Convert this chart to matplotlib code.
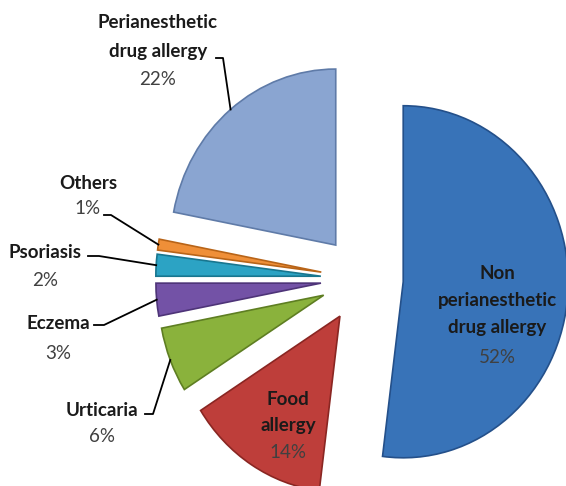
import math
import matplotlib.pyplot as plt

# slices, clockwise from the top
names = ['Non\nperianesthetic\ndrug allergy', 'Food\nallergy', 'Urticaria', 'Eczema',
         'Psoriasis', 'Others', 'Perianesthetic\ndrug allergy']
values = [52, 14, 6, 3, 2, 1, 22]
colors = ['#3873B8', '#BE3E3A', '#8AB23C', '#7352A6', '#2CA3C4', '#EF8F38', '#8AA5D1']
edges = ['#24508A', '#8A2622', '#5E7E22', '#4E3478', '#18768F', '#B86418', '#5F7BA8']

plt.rcParams['font.family'] = ['Lato', 'DejaVu Sans']

W, H = 566, 486
fig = plt.figure(figsize=(W / 100, H / 100), dpi=100)
ax = fig.add_axes([0, 0, 1, 1])
wedges, _ = ax.pie(values, colors=colors, startangle=90, counterclock=False,
                   explode=[0.25] * len(values),
                   wedgeprops=dict(linewidth=1.2))
for w, ec in zip(wedges, edges):
    w.set_edgecolor(ec)
ax.set_aspect('auto')
x0, x1 = -2.194, 1.236
y0, y1 = -1.176, 1.585
ax.set_xlim(x0, x1)
ax.set_ylim(y0, y1)
ax.axis('off')


def to_data(px, py):
    return x0 + px / W * (x1 - x0), y1 - py / H * (y1 - y0)


# text placement: slice index -> (centre x, first line y, pct y, line step), pixels
label_pos = {
    6: (158, 23, 79, 28),
    5: (88, 183, 208, 25),
    4: (45, 252, 280, 28),
    3: (58, 323, 353, 30),
    2: (102, 410, 437, 27),
    1: (288, 399, 452, 26),
    0: (497, 273, 357, 27),
}
fs = 13.5
for i, (cx, ty, py, step) in label_pos.items():
    for k, line in enumerate(names[i].split('\n')):
        ax.text(*to_data(cx, ty + k * step), line, ha='center', va='center',
                fontsize=fs, fontweight='bold', color='#1a1a1a')
    ax.text(*to_data(cx, py), f'{values[i]}%', ha='center', va='center',
            fontsize=fs, color='#404040')

# leader lines: slice index -> (stub end, elbow), pixels; other end on the wedge arc
leaders = {
    6: ((216, 58), (223, 58)),
    5: ((104, 215), (111, 215)),
    4: ((88, 256), (99, 256)),
    3: ((94, 325), (104, 325)),
    2: ((145, 414), (153, 414)),
}
for i, (stub, elbow) in leaders.items():
    w = wedges[i]
    mid = math.radians((w.theta1 + w.theta2) / 2)
    end_x = w.center[0] + w.r * math.cos(mid)
    end_y = w.center[1] + w.r * math.sin(mid)
    sx, sy = to_data(*stub)
    ex, ey = to_data(*elbow)
    ax.plot([sx, ex, end_x], [sy, ey, end_y], color='black', linewidth=1.3)

fig.savefig('out.png', dpi=100)
